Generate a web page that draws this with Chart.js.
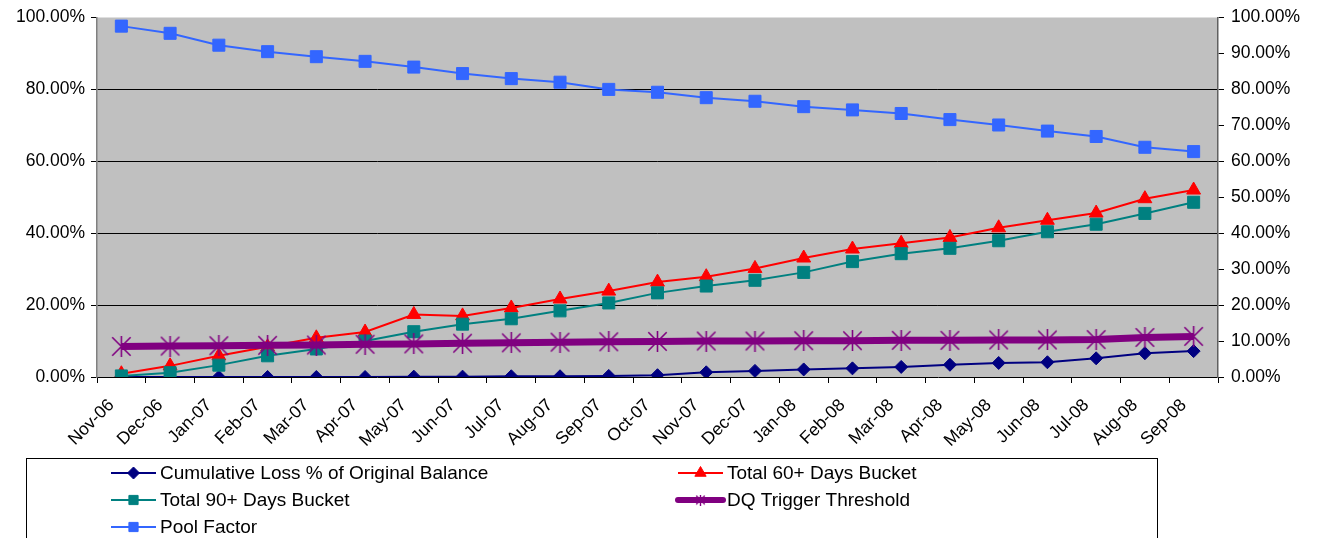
<!DOCTYPE html>
<html>
<head>
<meta charset="utf-8">
<script src="https://cdn.jsdelivr.net/npm/chart.js@4.4.1/dist/chart.umd.min.js"></script>
<style>
  html, body { margin: 0; padding: 0; background: #ffffff; }
  #wrap { position: relative; width: 1318px; height: 538px; }
</style>
</head>
<body>
<div id="wrap"><canvas id="chart" width="1318" height="538"></canvas></div>
<script>
// Monthly performance of the pool, Nov-06 through Sep-08 (values in %)
const months = ['Nov-06','Dec-06','Jan-07','Feb-07','Mar-07','Apr-07','May-07','Jun-07',
  'Jul-07','Aug-07','Sep-07','Oct-07','Nov-07','Dec-07','Jan-08','Feb-08','Mar-08',
  'Apr-08','May-08','Jun-08','Jul-08','Aug-08','Sep-08'];

const cumulativeLoss = [0.0, 0.0, 0.0, 0.0, 0.0, 0.0, 0.1, 0.1, 0.2, 0.2, 0.3, 0.5,
  1.3, 1.7, 2.1, 2.4, 2.8, 3.4, 3.9, 4.1, 5.2, 6.6, 7.2];
const sixtyPlus = [0.9, 3.1, 5.9, 8.4, 10.9, 12.5, 17.4, 17.0, 19.2, 21.7, 23.9, 26.4,
  27.9, 30.2, 33.1, 35.6, 37.2, 38.8, 41.5, 43.6, 45.6, 49.6, 52.0];
const ninetyPlus = [0.3, 1.2, 3.3, 5.9, 7.8, 10.0, 12.6, 14.7, 16.2, 18.4, 20.6, 23.4,
  25.3, 26.9, 29.1, 32.1, 34.3, 35.8, 37.9, 40.4, 42.5, 45.5, 48.6];
const dqTrigger = [8.5, 8.6, 8.7, 8.8, 8.9, 9.1, 9.2, 9.4, 9.5, 9.7, 9.8, 9.9,
  10.0, 10.0, 10.1, 10.1, 10.2, 10.2, 10.3, 10.3, 10.4, 11.0, 11.3];
const poolFactor = [97.6, 95.6, 92.3, 90.5, 89.1, 87.8, 86.2, 84.4, 83.0, 82.0, 80.0, 79.2,
  77.7, 76.7, 75.2, 74.3, 73.3, 71.6, 70.1, 68.4, 66.9, 63.9, 62.7];

const leftTicks = [0, 20, 40, 60, 80, 100];
const rightTicks = [0, 10, 20, 30, 40, 50, 60, 70, 80, 90, 100];

const FONT = '"Liberation Sans", Arial, sans-serif';

// Asterisk marker: an X with a vertical bar
function asterisk(size, color, lw) {
  const c = document.createElement('canvas');
  c.width = size; c.height = size;
  const g = c.getContext('2d');
  g.strokeStyle = color; g.lineWidth = lw;
  const m = lw / 2 + 0.5, s = size - m;
  g.beginPath();
  g.moveTo(m, m); g.lineTo(s, s);
  g.moveTo(s, m); g.lineTo(m, s);
  g.moveTo(size / 2, 0); g.lineTo(size / 2, size);
  g.stroke();
  return c;
}
const starBig = asterisk(21, '#800080', 1.6);
const starSmall = asterisk(11, '#800080', 1.4);

// Grey plot background
const plotBackground = {
  id: 'plotBackground',
  beforeDraw(chart) {
    const { ctx, chartArea: a } = chart;
    ctx.save();
    ctx.fillStyle = '#c0c0c0';
    ctx.fillRect(a.left, a.top, a.right - a.left, a.bottom - a.top);
    ctx.restore();
  }
};

// Two-column boxed legend below the axis labels
const boxedLegend = {
  id: 'boxedLegend',
  afterDraw(chart) {
    const ctx = chart.ctx;
    const box = { left: 26, top: 458, right: 1157, bottom: 560 };
    ctx.save();
    ctx.strokeStyle = '#000';
    ctx.lineWidth = 1;
    ctx.strokeRect(box.left + 0.5, box.top + 0.5, box.right - box.left, box.bottom - box.top);

    const slots = [
      { x: 111, y: 473 }, { x: 678, y: 473 },
      { x: 111, y: 500 }, { x: 678, y: 500 },
      { x: 111, y: 527 }
    ];
    const lineLen = 45;
    chart.data.datasets.forEach((ds, i) => {
      const s = slots[i];
      if (!s) return;
      ctx.strokeStyle = ds.borderColor;
      ctx.lineWidth = ds.legendLineWidth || ds.borderWidth;
      ctx.lineCap = ds.legendLineWidth > 3 ? 'round' : 'butt';
      ctx.beginPath();
      ctx.moveTo(s.x, s.y);
      ctx.lineTo(s.x + lineLen, s.y);
      ctx.stroke();
      const style = ds.legendPointStyle || ds.pointStyle;
      ctx.fillStyle = ds.pointBackgroundColor;
      ctx.strokeStyle = ds.pointBorderColor;
      ctx.lineWidth = 1;
      Chart.helpers.drawPoint(ctx, {
        pointStyle: style,
        radius: ds.legendRadius,
        rotation: 0,
        borderWidth: 1
      }, s.x + lineLen / 2, s.y);
      ctx.fillStyle = '#000';
      ctx.font = '19px ' + FONT;
      ctx.textBaseline = 'middle';
      ctx.textAlign = 'left';
      ctx.fillText(ds.label, s.x + lineLen + 4, s.y + 1);
    });
    ctx.restore();
  }
};

const pct2 = v => Number(v).toFixed(2) + '%';

new Chart(document.getElementById('chart'), {
  type: 'line',
  data: {
    labels: months,
    datasets: [
      {
        label: 'Cumulative Loss % of Original Balance',
        data: cumulativeLoss,
        borderColor: '#000080', borderWidth: 2,
        pointStyle: 'rectRot', pointRadius: 6.5,
        pointBackgroundColor: '#000080', pointBorderColor: '#000080', pointBorderWidth: 1,
        legendRadius: 6, order: 5
      },
      {
        label: 'Total 60+ Days Bucket',
        data: sixtyPlus,
        borderColor: '#ff0000', borderWidth: 2,
        pointStyle: 'triangle', pointRadius: 8,
        pointBackgroundColor: '#ff0000', pointBorderColor: '#ff0000', pointBorderWidth: 1,
        legendRadius: 6.5, order: 4
      },
      {
        label: 'Total 90+ Days Bucket',
        data: ninetyPlus,
        borderColor: '#008080', borderWidth: 2,
        pointStyle: 'rect', pointRadius: 8.5,
        pointBackgroundColor: '#008080', pointBorderColor: '#008080', pointBorderWidth: 1,
        legendRadius: 6.5, order: 3
      },
      {
        label: 'DQ Trigger Threshold',
        data: dqTrigger,
        borderColor: '#800080', borderWidth: 7,
        pointStyle: starBig, legendPointStyle: starSmall, pointRadius: 10,
        pointBackgroundColor: '#800080', pointBorderColor: '#800080',
        legendLineWidth: 6, legendRadius: 5, order: 2
      },
      {
        label: 'Pool Factor',
        data: poolFactor,
        borderColor: '#3366ff', borderWidth: 2,
        pointStyle: 'rect', pointRadius: 8.5,
        pointBackgroundColor: '#3366ff', pointBorderColor: '#3366ff', pointBorderWidth: 1,
        legendRadius: 6.5, order: 1
      }
    ]
  },
  options: {
    responsive: false,
    animation: false,
    events: [],
    layout: { padding: { top: 17, bottom: 81, left: 0, right: 0 } },
    plugins: {
      legend: { display: false },
      tooltip: { enabled: false }
    },
    elements: { line: { tension: 0 } },
    scales: {
      x: {
        type: 'category',
        offset: true,
        afterFit(scale) { scale.height = 80; },
        grid: { offset: true, drawOnChartArea: false, drawTicks: true, tickLength: 6, color: '#000' },
        border: { color: '#000', width: 1 },
        ticks: {
          autoSkip: false, minRotation: 45, maxRotation: 45, padding: 12, labelOffset: -10,
          color: '#000', font: { family: FONT, size: 17.5 }
        }
      },
      y: {
        position: 'left',
        min: 0, max: 100,
        afterFit(scale) { scale.width = 97; },
        afterBuildTicks(scale) { scale.ticks = leftTicks.map(v => ({ value: v })); },
        grid: {
          color: c => (c.tick && (c.tick.value === 0 || c.tick.value === 100)) ? 'rgba(0,0,0,0)' : '#000',
          tickColor: '#000', tickLength: 6, lineWidth: 1
        },
        border: { color: '#808080', width: 1.5 },
        ticks: {
          padding: 6, color: '#000', callback: pct2,
          font: { family: FONT, size: 17.5 }
        }
      },
      y1: {
        position: 'right',
        min: 0, max: 100,
        afterFit(scale) { scale.width = 100; },
        afterBuildTicks(scale) { scale.ticks = rightTicks.map(v => ({ value: v })); },
        grid: { drawOnChartArea: false, tickColor: '#000', tickLength: 6 },
        border: { color: '#606060', width: 1.5 },
        ticks: {
          padding: 7, color: '#000', callback: pct2,
          font: { family: FONT, size: 17.5 }
        }
      }
    }
  },
  plugins: [plotBackground, boxedLegend]
});
</script>
</body>
</html>
